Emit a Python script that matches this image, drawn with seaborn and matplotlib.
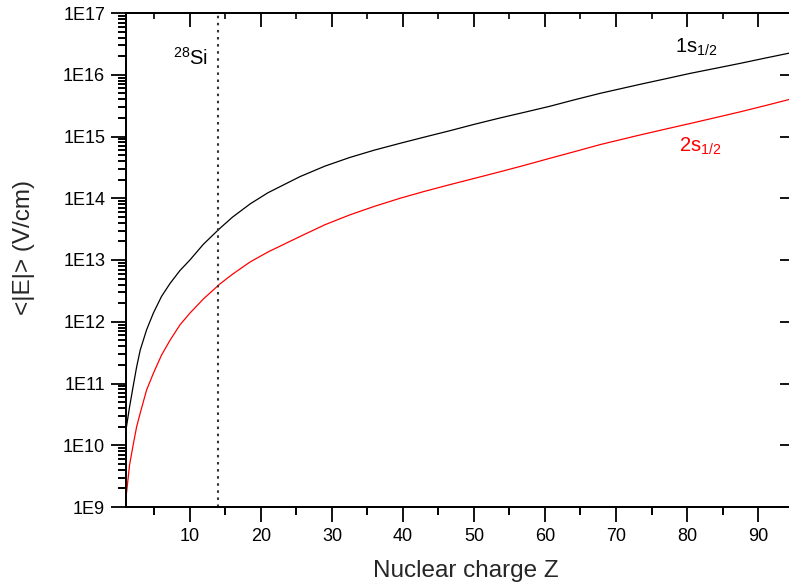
import numpy as np
import pandas as pd
import matplotlib
matplotlib.use("Agg")
import matplotlib.pyplot as plt
import seaborn as sns
from matplotlib.ticker import FixedLocator, FuncFormatter, NullFormatter

# ---- data ----
Z = [1.0, 1.5, 2.0, 2.5, 3.0, 3.9, 4.85, 6.0, 7.2, 8.6, 10.0, 11.9, 14.2, 16.0, 18.5,
     21.0, 25.5, 29.0, 32.5, 36.0, 39.6, 43.0, 46.6, 50.0, 53.7, 57.0, 60.7, 64.0,
     67.8, 73.4, 77.0, 80.4, 84.0, 87.5, 91.0, 94.4]
E_1s = [1.78e10, 4.17e10, 8.91e10, 1.86e11, 3.47e11, 7.41e11, 1.38e12, 2.57e12, 4.17e12,
        6.76e12, 1.0e13, 1.80e13, 3.24e13, 4.95e13, 8.13e13, 1.23e14, 2.24e14, 3.31e14,
        4.57e14, 6.03e14, 7.76e14, 9.77e14, 1.24e15, 1.57e15, 2.0e15, 2.45e15, 3.09e15,
        3.89e15, 5.01e15, 7.0e15, 8.61e15, 1.05e16, 1.27e16, 1.53e16, 1.86e16, 2.24e16]
E_2s = [1.41e9, 4.79e9, 1.0e10, 2.0e10, 3.31e10, 7.85e10, 1.46e11, 2.88e11, 5.01e11,
        8.91e11, 1.38e12, 2.34e12, 4.07e12, 5.89e12, 9.33e12, 1.35e13, 2.4e13, 3.72e13,
        5.37e13, 7.41e13, 1.0e14, 1.29e14, 1.66e14, 2.09e14, 2.69e14, 3.39e14, 4.44e14,
        5.62e14, 7.41e14, 1.06e15, 1.32e15, 1.62e15, 2.02e15, 2.51e15, 3.16e15, 3.98e15]
states = ["1s", "2s"]
state_labels = [r"$\mathrm{1s_{1/2}}$", r"$\mathrm{2s_{1/2}}$"]
si_Z = 14
si_label = r"$\mathrm{^{28}Si}$"
x_label = "Nuclear charge Z"
y_label = "<|E|> (V/cm)"
y_exponents = list(range(9, 18))
x_major = [10, 20, 30, 40, 50, 60, 70, 80, 90]
x_minor = [5, 15, 25, 35, 45, 55, 65, 75, 85]

sns.set_style("ticks")
plt.rcParams["font.family"] = ["Liberation Sans", "DejaVu Sans"]
plt.rcParams["mathtext.fontset"] = "custom"
plt.rcParams["mathtext.rm"] = "Liberation Sans"
plt.rcParams["mathtext.it"] = "Liberation Sans:italic"

fig = plt.figure(figsize=(7.89, 5.86), dpi=100)
ax = fig.add_axes([126 / 789, 1 - 507 / 586, 665.4 / 789, 494 / 586])

df = pd.DataFrame({
    "Z": Z + Z,
    "E": E_1s + E_2s,
    "state": [states[0]] * len(Z) + [states[1]] * len(Z),
})
sns.lineplot(data=df, x="Z", y="E", hue="state",
             palette={"1s": "black", "2s": "#ff0000"},
             linewidth=0.9, legend=False, ax=ax)

ax.set_yscale("log")
ax.set_ylim(1e9, 1e17)
ax.set_xlim(1, 94.7)

ax.axvline(si_Z, color="#333333", lw=1.5, ls=(0, (1.2, 2.2)))

for s in ["left", "bottom", "top"]:
    ax.spines[s].set_linewidth(1.4)
    ax.spines[s].set_color("black")
ax.spines["right"].set_visible(False)

ax.set_xlabel(x_label, fontsize=17.5)
ax.xaxis.set_label_coords(0.511, -0.107)
ax.set_ylabel(y_label, fontsize=17.5)
ax.yaxis.set_label_coords(-0.137, 0.525)

ax.text(12.55, 1.45e16, si_label, ha="right", va="baseline", fontsize=14.5, color="black")
ax.text(78.3, 2.24e16, state_labels[0], ha="left", va="baseline", fontsize=14.5, color="black")
ax.text(78.9, 5.6e14, state_labels[1], ha="left", va="baseline", fontsize=14.5, color="#ff0000")

y_major = [10.0 ** e for e in y_exponents]
y_minor = [k * 10.0 ** e for e in y_exponents[:-1] for k in range(2, 10)]

# main (major) ticks, outward, left & bottom
ax.xaxis.set_major_locator(FixedLocator(x_major))
ax.yaxis.set_major_locator(FixedLocator(y_major))
ax.xaxis.set_minor_locator(FixedLocator(x_minor))
ax.yaxis.set_minor_locator(FixedLocator(y_minor))
ax.yaxis.set_minor_formatter(NullFormatter())
ax.xaxis.set_minor_formatter(NullFormatter())
ax.yaxis.set_major_formatter(FuncFormatter(lambda v, p: f"1E{int(round(np.log10(v)))}"))
ax.xaxis.set_major_formatter(FuncFormatter(lambda v, p: f"{int(round(v))}"))
ax.tick_params(which="major", direction="out", length=11, width=1.3, labelsize=13,
               pad=4, top=False, right=False, left=True, bottom=True, colors="black")
ax.tick_params(which="minor", direction="out", length=6, width=1.2,
               top=False, right=False, left=True, bottom=True, colors="black")

# explicit minor tick rows (left and bottom) drawn by helper axes
axlm = ax.secondary_yaxis("left")
axlm.set_yticks(y_minor)
axlm.set_yticks([], minor=True)
axlm.tick_params(which="major", direction="out", length=6, width=1.2, labelleft=False,
                 colors="black")
axlm.spines["left"].set_linewidth(1.4)

axbm = ax.secondary_xaxis("bottom")
axbm.set_xticks(x_minor)
axbm.set_xticks([], minor=True)
axbm.tick_params(which="major", direction="out", length=6, width=1.2, labelbottom=False,
                 colors="black")
axbm.spines["bottom"].set_linewidth(1.4)

# top side: inward ticks
axt = ax.secondary_xaxis("top")
axt.set_xticks(x_major)
axt.set_xticks(x_minor, minor=True)
axt.tick_params(which="major", direction="in", length=10, width=1.3, labeltop=False, colors="black")
axt.tick_params(which="minor", direction="in", length=4, width=1.2, colors="black")
axt.spines["top"].set_linewidth(1.4)

# right side: inward major ticks only
axr = ax.secondary_yaxis("right")
axr.set_yticks(y_major)
axr.set_yticks([], minor=True)
axr.tick_params(which="major", direction="in", length=8, width=1.3, labelright=False, colors="black")
axr.spines["right"].set_visible(False)

fig.savefig("out.png", dpi=100)
